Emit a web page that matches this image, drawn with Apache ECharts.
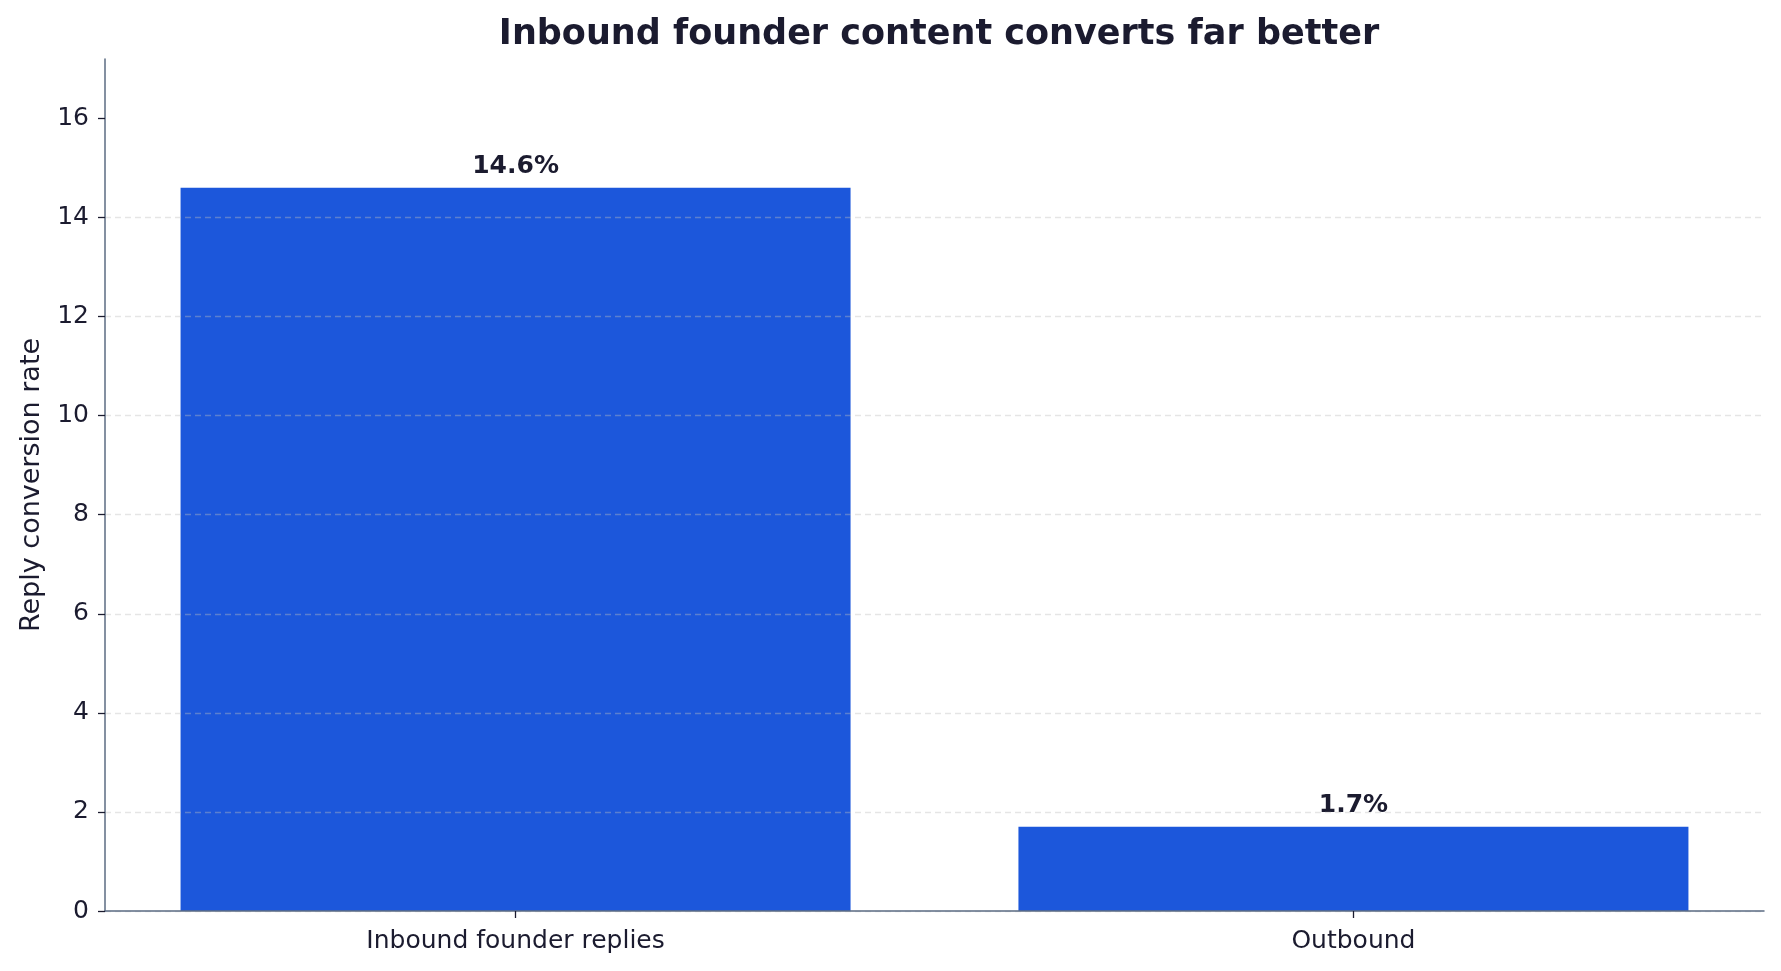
<!DOCTYPE html>
<html>
<head>
<meta charset="UTF-8">
<title>Reply conversion</title>
<style>
  html, body { margin: 0; padding: 0; background: #ffffff; }
  #chart { width: 1781px; height: 971px; }
</style>
</head>
<body>
<div id="chart"></div>
<script src="https://cdn.jsdelivr.net/npm/echarts@6/dist/echarts.min.js"></script>
<script>
// data
var categories = ['Inbound founder replies', 'Outbound'];
var rates = [14.6, 1.7];
var yTicks = [0, 2, 4, 6, 8, 10, 12, 14, 16];
var yMax = 17.2;

var dark = '#1b1b2f';
// bars sit on positions 0,1 of a value axis so the side margins match the original
var catIdx = categories.map(function (c, i) { return i; });
var barData = rates.map(function (v, i) { return [i, v]; });

var chart = echarts.init(document.getElementById('chart'));
var option = {
  backgroundColor: '#ffffff',
  animation: false,
  title: {
    text: 'Inbound founder content converts far better',
    left: 934,
    textAlign: 'center',
    top: 12,
    textStyle: { fontFamily: 'DejaVu Sans', fontSize: 35, fontWeight: 'bold', color: dark }
  },
  grid: { left: 105, right: 17, top: 59, bottom: 60 },
  xAxis: {
    type: 'value',
    min: -0.49,
    max: 1.49,
    z: 3,
    splitLine: { show: false },
    axisLine: { show: true, onZero: false, lineStyle: { color: '#5b6b82', width: 1.5 } },
    axisTick: { show: true, length: 7, lineStyle: { color: dark, width: 1.3 }, customValues: catIdx },
    axisLabel: {
      margin: 18, fontFamily: 'DejaVu Sans', fontSize: 25, color: dark, customValues: catIdx,
      formatter: function (v) { return categories[Math.round(v)]; }
    }
  },
  yAxis: {
    type: 'value',
    min: 0,
    max: yMax,
    interval: 2,
    z: 3, // grid lines show faintly over the bars
    name: 'Reply conversion rate',
    nameLocation: 'middle',
    nameGap: 60,
    nameTextStyle: { fontFamily: 'DejaVu Sans', fontSize: 27, color: dark },
    axisLine: { show: true, onZero: false, lineStyle: { color: '#5b6b82', width: 1.5 } },
    axisTick: { show: true, length: 7, lineStyle: { color: dark, width: 1.3 }, customValues: yTicks },
    axisLabel: { margin: 16, fontFamily: 'DejaVu Sans', fontSize: 25, color: dark, customValues: yTicks },
    splitLine: { show: true, showMaxLine: false, lineStyle: { color: 'rgba(190,190,190,0.4)', type: [6, 4], width: 1.3 } }
  },
  series: [{
    type: 'bar',
    data: barData,
    barWidth: 670,
    itemStyle: { color: '#1c57db' },
    label: {
      show: true,
      position: 'top',
      distance: 9,
      fontFamily: 'DejaVu Sans',
      fontSize: 25,
      fontWeight: 'bold',
      color: dark,
      formatter: function (p) { return p.value[1].toFixed(1) + '%'; }
    }
  }]
};
chart.setOption(option);
</script>
</body>
</html>
